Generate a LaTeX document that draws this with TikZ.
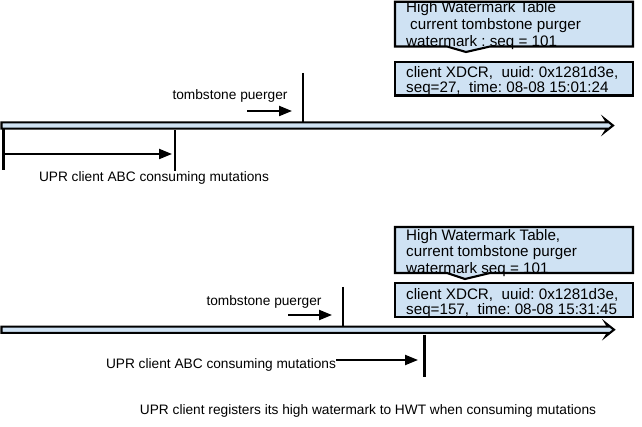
\documentclass[tikz,border=0pt]{standalone}
\usepackage{fontspec}
\setmainfont{Liberation Sans}
\usetikzlibrary{arrows.meta}
\definecolor{boxblue}{HTML}{CFE2F3}
\begin{document}
\frenchspacing
\begin{tikzpicture}[x=1pt,y=-1pt,
  lbl/.style={font=\fontsize{13.7}{16}\selectfont, inner sep=0pt},
  boxtxt/.style={font=\fontsize{15.2}{#1}\selectfont, align=left, anchor=north west, inner sep=0pt},
  tick/.style={line width=2.1pt},
  mover/.style={line width=2.1pt, -{Triangle[length=13pt,width=10pt]}},
  panel/.style={draw=black, line width=2.1pt, fill=boxblue, line join=miter},
  shaft/.style={draw=black, line width=2.1pt, fill=boxblue, line join=miter}]
\useasboundingbox (0,0) rectangle (642,427);

% ---------- upper half ----------
\draw[panel] (395,1.8) -- (633,1.8) -- (633,46.5) -- (490,46.5) -- (466,52) -- (447,46.5) -- (395,46.5) -- cycle;
\node[boxtxt=17] (hwt1) at (406,1.6) {High Watermark Table\\\hspace{4pt}current tombstone purger\\watermark : seq = 101};
\draw[panel] (395,61.7) rectangle (633,95.5);
\node[boxtxt=15.5] (xdcr1) at (406,65.8) {client XDCR,\ \ uuid: 0x1281d3e,\\seq=27,\ \ time: 08-08 15:01:24};

\draw[shaft] (1.5,122.4) -- (607,122.4) -- (605,119.2) -- (613,125.5) -- (605,131.8) -- (607,128.6) -- (1.5,128.6) -- cycle;

\coordinate (tpTop1) at (303,73);
\coordinate (tpBot1) at (303,122);
\draw[tick] (tpTop1) -- (tpBot1);
\coordinate (tpA1) at (247,111);
\coordinate (tpB1) at (292,111);
\draw[mover] (tpA1) -- (tpB1);
\node[lbl] (tplbl1) at (230,95.5) {tombstone puerger};

\coordinate (startTop) at (3.5,129);
\coordinate (startBot) at (3.5,170);
\draw[tick] (startTop) -- (startBot);
\coordinate (upTop1) at (175,130);
\coordinate (upBot1) at (175,171);
\draw[tick] (upTop1) -- (upBot1);
\coordinate (upA1) at (5,154);
\coordinate (upB1) at (172,154);
\draw[mover] (upA1) -- (upB1);
\node[lbl] (uplbl1) at (154,177.5) {UPR client ABC consuming mutations};

% ---------- lower half ----------
\draw[panel] (395,227) -- (633,227) -- (633,273) -- (490,273) -- (465,279) -- (447,273) -- (395,273) -- cycle;
\node[boxtxt=16.5] (hwt2) at (406,229.2) {High Watermark Table,\\current tombstone purger\\watermark seq = 101};
\draw[panel] (395,283) rectangle (633,317);
\node[boxtxt=15] (xdcr2) at (406,288.2) {client XDCR,\ \ uuid: 0x1281d3e,\\seq=157,\ \ time: 08-08 15:31:45};

\draw[shaft] (1.5,326.6) -- (608,326.6) -- (606,323.4) -- (614,329.7) -- (606,336) -- (608,332.8) -- (1.5,332.8) -- cycle;

\coordinate (tpTop2) at (343,287);
\coordinate (tpBot2) at (343,326.5);
\draw[tick] (tpTop2) -- (tpBot2);
\coordinate (tpA2) at (288,315);
\coordinate (tpB2) at (332,315);
\draw[mover] (tpA2) -- (tpB2);
\node[lbl] (tplbl2) at (264,301.5) {tombstone puerger};

\coordinate (upTop2) at (424.5,334.5);
\coordinate (upBot2) at (424.5,377);
\draw[tick] (upTop2) -- (upBot2);
\node[lbl] (uplbl2) at (221,365) {UPR client ABC consuming mutations};
\coordinate (upB2) at (418,360);
\draw[mover] (uplbl2.east |- upB2) -- (upB2);

\node[lbl] (note) at (368,411) {UPR client registers its high watermark to HWT when consuming mutations};
\end{tikzpicture}
\end{document}
